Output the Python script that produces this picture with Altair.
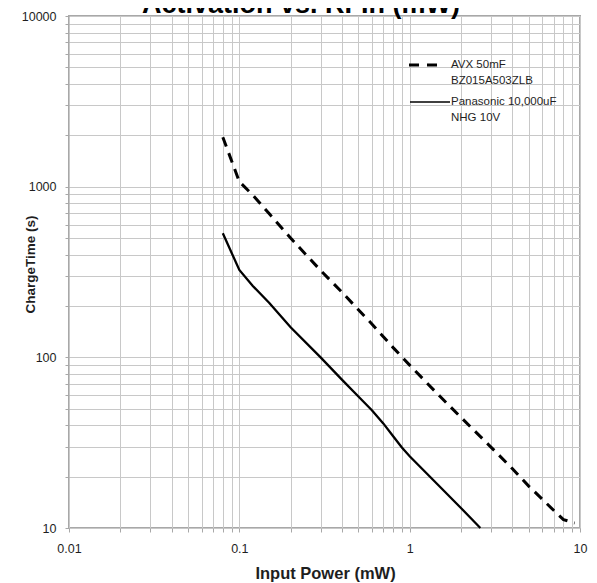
import altair as alt
import pandas as pd

# ---- data ----
avx_power = [0.08, 0.1, 0.12, 0.15, 0.2, 0.3, 0.4, 0.5, 0.6, 0.8, 1.0, 1.5, 2.0, 3.0, 4.0, 5.0, 6.0, 7.0, 8.0, 9.3]
avx_time = [1950, 1070, 893, 693, 500, 323, 241, 190, 157, 114, 90, 59.3, 44.5, 29.8, 22.3, 17.6, 14.75, 12.7, 11.2, 10.7]

pan_power = [0.08, 0.1, 0.12, 0.15, 0.2, 0.3, 0.4, 0.5, 0.6, 0.7, 0.8, 0.9, 1.0, 1.5, 2.0, 2.6]
pan_time = [533, 325, 262, 208, 150, 100, 74, 59, 49, 41, 34.5, 29.6, 26.3, 17.5, 13.1, 10]

series_names = ["AVX 50mF", "Panasonic 10,000uF"]
legend_lines = [["AVX 50mF", "BZ015A503ZLB"], ["Panasonic 10,000uF", "NHG 10V"]]

chart_title = "Activation vs. RFIn (mW)"
x_title = "Input Power (mW)"
y_title = "ChargeTime (s)"

x_ticks = [round(m * 10.0 ** k, 6) for k in (-2, -1, 0) for m in range(1, 10)] + [10]
y_ticks = [round(m * 10.0 ** k, 6) for k in (1, 2, 3) for m in range(1, 10)] + [10000]
x_labels = ["0.01", "0.1", "1", "10"]
y_labels = ["10", "100", "1000", "10000"]

# ---- tables ----
df = pd.concat([
    pd.DataFrame({"power": avx_power, "time": avx_time, "series": series_names[0]}),
    pd.DataFrame({"power": pan_power, "time": pan_time, "series": series_names[1]}),
])

FONT = "Liberation Sans"
GRID = "#c8c8c8"
BORDER = "#a8a8a8"
TEXT = "#1e1e1e"

W, H = 511, 512

def label_expr(labels):
    arr = ",".join("'%s'" % s for s in labels)
    return "indexof([%s], datum.label) >= 0 ? datum.label : ''" % arr

xscale = alt.Scale(type="log", domain=[0.01, 10], nice=False)
yscale = alt.Scale(type="log", domain=[10, 10000], nice=False)

xaxis = alt.Axis(values=x_ticks, format="~g", labelExpr=label_expr(x_labels),
                 grid=True, gridColor=GRID, gridWidth=1, domain=False,
                 ticks=True, tickColor=BORDER, tickSize=4, labelPadding=10,
                 labelFont=FONT, labelFontSize=12.5, labelColor=TEXT,
                 labelFlush=False, labelOverlap=False,
                 title=x_title, titleFont=FONT, titleFontSize=16.5, titleFontWeight="bold",
                 titleColor=TEXT, titleX=256, titleY=45, titleBaseline="middle")
yaxis = alt.Axis(values=y_ticks, format="~g", labelExpr=label_expr(y_labels),
                 grid=True, gridColor=GRID, gridWidth=1, domain=False,
                 ticks=True, tickColor=BORDER, tickSize=4, labelPadding=9,
                 labelFont=FONT, labelFontSize=12.5, labelColor=TEXT,
                 labelFlush=False, labelOverlap=False,
                 title=y_title, titleFont=FONT, titleFontSize=13.5, titleFontWeight="bold",
                 titleColor=TEXT, titleX=-39, titleY=248, titleBaseline="middle", titleAngle=-90)

base = alt.Chart(df)

avx = base.transform_filter(alt.datum.series == series_names[0]).mark_line(
    color="black", strokeWidth=3, strokeDash=[10, 7]
).encode(
    x=alt.X("power:Q", scale=xscale, axis=xaxis),
    y=alt.Y("time:Q", scale=yscale, axis=yaxis),
    order="power:Q",
)

pan = base.transform_filter(alt.datum.series == series_names[1]).mark_line(
    color="black", strokeWidth=2.3
).encode(
    x=alt.X("power:Q", scale=xscale),
    y=alt.Y("time:Q", scale=yscale),
    order="power:Q",
)

# legend (drawn inside plot at top right)
leg_df = pd.DataFrame({"series": series_names})
leg_dash = alt.Chart(leg_df).transform_filter(alt.datum.series == series_names[0]).mark_rule(
    color="black", strokeWidth=3, strokeDash=[10, 8]
).encode(x=alt.value(340), x2=alt.value(371), y=alt.value(49))
leg_solid = alt.Chart(leg_df).transform_filter(alt.datum.series == series_names[1]).mark_rule(
    color="black", strokeWidth=1.6
).encode(x=alt.value(341), x2=alt.value(381), y=alt.value(86))

text_rows = pd.DataFrame({
    "t": [legend_lines[0][0], legend_lines[0][1], legend_lines[1][0], legend_lines[1][1]],
    "k": [0, 1, 2, 3],
})
leg_texts = []
for k, yy in zip(range(4), [49, 64.5, 86.3, 101.7]):
    leg_texts.append(
        alt.Chart(text_rows).transform_filter(alt.datum.k == k).mark_text(
            align="left", baseline="middle", font=FONT, fontSize=11.5, color=TEXT
        ).encode(text="t:N", x=alt.value(382), y=alt.value(yy))
    )

title_mark = alt.Chart(pd.DataFrame({"t": [chart_title]})).mark_text(
    align="center", baseline="alphabetic", font=FONT, fontSize=27, fontWeight="bold", color="black"
).encode(text="t:N", x=alt.value(232), y=alt.value(-3))

chart = alt.layer(avx, pan, leg_dash, leg_solid, *leg_texts, title_mark).properties(
    width=W, height=H,
    autosize=alt.AutoSizeParams(type="none"),
    padding={"left": 61, "top": 8, "right": 9, "bottom": 62},
).configure_view(stroke=BORDER, strokeWidth=2)

chart.save("out.html", embed_options={"renderer": "svg", "actions": False})
